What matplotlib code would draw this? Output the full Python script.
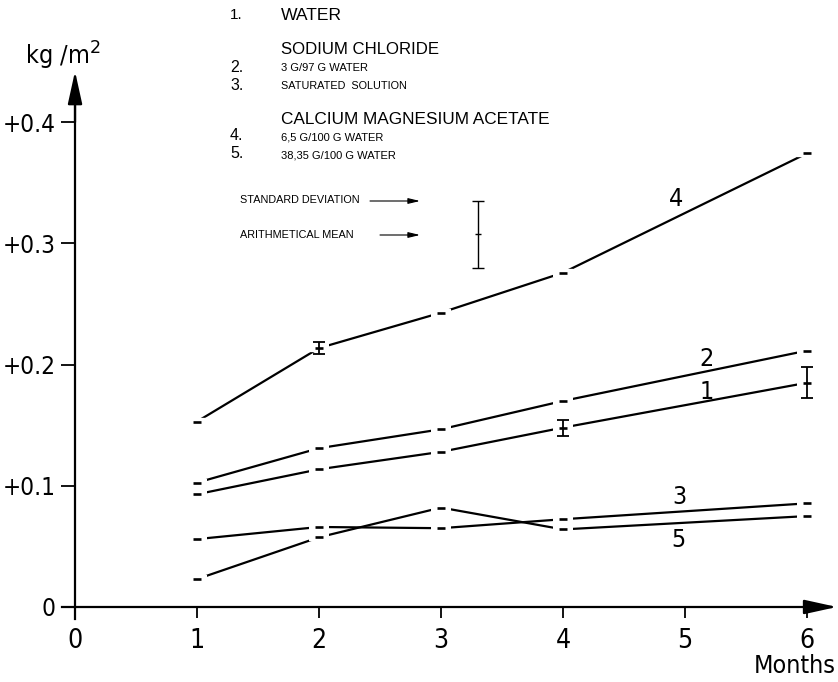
import matplotlib
matplotlib.use("Agg")
import matplotlib.pyplot as plt
from matplotlib import font_manager as fm

# ---------------- data ----------------
months = [1, 2, 3, 4, 6]
water = [0.093, 0.1136, 0.128, 0.148, 0.185]            # 1
nacl_3g = [0.1026, 0.131, 0.1466, 0.170, 0.2115]        # 2
nacl_sat = [0.056, 0.066, 0.065, 0.0724, 0.0855]        # 3
cma_65 = [0.153, 0.2136, 0.2428, 0.2758, 0.3743]        # 4
cma_3835 = [0.023, 0.0575, 0.082, 0.064, 0.075]         # 5
err_water = [0, 0, 0, 0.0066, 0.0128]
err_cma_65 = [0, 0.005, 0, 0, 0]
series_names = ["1", "2", "3", "4", "5"]
xticks = [0, 1, 2, 3, 4, 5, 6]
yticks = [0, 0.1, 0.2, 0.3, 0.4]
ytick_labels = ["0", "+0.1", "+0.2", "+0.3", "+0.4"]
legend_err_mean = 0.3075
legend_err_sd = 0.0275

# ---------------- fonts ----------------
def pick_condensed():
    prefs = []
    for f in fm.fontManager.ttflist:
        fn = f.fname.lower()
        if f.style != "normal" or f.weight not in (400, "normal", "regular"):
            continue
        if "dejavusanscondensed.ttf" in fn:
            prefs.append((0, f.fname))
        elif "liberationsansnarrow-regular" in fn:
            prefs.append((1, f.fname))
        elif "robotocondensed-regular" in fn:
            prefs.append((2, f.fname))
    if prefs:
        prefs.sort()
        return prefs[0][1]
    return None

cond_path = pick_condensed()

def din(size):
    if cond_path:
        return fm.FontProperties(fname=cond_path, size=size)
    return fm.FontProperties(family="DejaVu Sans", size=size * 0.9)

HELV = ["Liberation Sans", "DejaVu Sans"]

fig = plt.figure(figsize=(8.38, 6.82), dpi=100)
ax = fig.add_axes([0, 0, 1, 1])
ax.set_xlim(-0.615, 6.254)
ax.set_ylim(-0.0619, 0.5008)
ax.patch.set_alpha(0)

for s in ["top", "right"]:
    ax.spines[s].set_visible(False)
ax.spines["left"].set_position(("data", 0))
ax.spines["bottom"].set_position(("data", 0))
ax.spines["left"].set_bounds(-0.010, 0.43)
ax.spines["bottom"].set_bounds(-0.11, 6.2)
ax.spines["left"].set_linewidth(1.6)
ax.spines["bottom"].set_linewidth(1.6)

ax.set_xticks(xticks)
ax.set_xticklabels([str(t) for t in xticks])
ax.set_yticks(yticks)
ax.set_yticklabels(ytick_labels)
for lab in ax.get_xticklabels():
    lab.set_fontproperties(din(19))
for lab in ax.get_yticklabels():
    lab.set_fontproperties(din(17.5))
ax.tick_params(axis="x", direction="out", length=8, width=1.3, pad=7)
ax.tick_params(axis="y", direction="out", length=10, width=1.3, pad=4)

# arrow heads
ax.annotate("", xy=(0, 0.442), xytext=(0, 0.40),
            arrowprops=dict(arrowstyle="-|>,head_length=1.0,head_width=0.22",
                            mutation_scale=20, color="black", lw=1.6,
                            shrinkA=0, shrinkB=0))
ax.annotate("", xy=(6.245, 0), xytext=(6.0, 0),
            arrowprops=dict(arrowstyle="-|>,head_length=1.0,head_width=0.22",
                            mutation_scale=20, color="black", lw=1.6,
                            shrinkA=0, shrinkB=0))

ax.text(-0.10, 0.455, "kg /m$^2$", fontproperties=din(18),
        ha="center", va="center")
ax.text(5.90, -0.049, "Months", fontproperties=din(18),
        ha="center", va="center")

# series
all_series = [water, nacl_3g, nacl_sat, cma_65, cma_3835]
for ys in all_series:
    ax.plot(months, ys, color="black", lw=1.6, zorder=2, solid_capstyle="butt")
    ax.plot(months, ys, ls="none", marker="_", ms=15, mew=6,
            color="white", zorder=3)
    ax.plot(months, ys, ls="none", marker="_", ms=6, mew=1.9,
            color="black", zorder=4)

def draw_err(xs, ys, es):
    for x, y, e in zip(xs, ys, es):
        if e > 0:
            ax.errorbar([x], [y], yerr=[e], fmt="none", ecolor="black",
                        elinewidth=1.3, capsize=4, capthick=1.3, zorder=5)

draw_err(months, water, err_water)
draw_err(months, cma_65, err_cma_65)

# series labels
lab_pos = {"4": (4.93, 0.337), "2": (5.18, 0.205), "1": (5.18, 0.177),
           "3": (4.95, 0.091), "5": (4.95, 0.055)}
for name in series_names:
    x, y = lab_pos[name]
    ax.text(x, y, name, fontproperties=din(18), ha="center", va="center")

# legend sample error bar
ax.errorbar([3.30], [legend_err_mean], yerr=[legend_err_sd], fmt="none",
            ecolor="black", elinewidth=1.0, capsize=4, capthick=1.0)
ax.plot([3.30], [legend_err_mean], marker="_", ms=4, mew=1.0, color="black")

# legend texts (figure pixel coordinates)
def ftext(x, y, s, size, weight="normal"):
    fig.text(x / 838, 1 - y / 682, s, fontfamily=HELV, fontsize=size,
             fontweight=weight, ha="left", va="center")

ftext(230, 15, "1.", 11)
ftext(281, 15, "WATER", 12.6)
ftext(281, 49, "SODIUM CHLORIDE", 12.1)
ftext(230, 68, "2.", 11.5)
ftext(281, 68, "3 G/97 G WATER", 8)
ftext(230, 85, "3.", 11.5)
ftext(281, 86, "SATURATED  SOLUTION", 7.8)
ftext(281, 119, "CALCIUM MAGNESIUM ACETATE", 12.4)
ftext(230, 136, "4.", 11.5)
ftext(281, 137, "6,5 G/100 G WATER", 8)
ftext(230, 154, "5.", 11.5)
ftext(281, 155, "38,35 G/100 G WATER", 8)
ftext(240, 200, "STANDARD DEVIATION", 7.8)
ftext(240, 235, "ARITHMETICAL MEAN", 7.8)

for (x0, x1, y) in [(370, 420, 201), (380, 420, 235)]:
    ax.annotate("", xy=(x1 / 838, 1 - y / 682), xytext=(x0 / 838, 1 - y / 682),
                xycoords="figure fraction", textcoords="figure fraction",
                arrowprops=dict(arrowstyle="-|>,head_length=0.5,head_width=0.12",
                                mutation_scale=14, color="black", lw=0.8,
                                shrinkA=0, shrinkB=0))

fig.savefig("out.png", dpi=100, facecolor="white")
